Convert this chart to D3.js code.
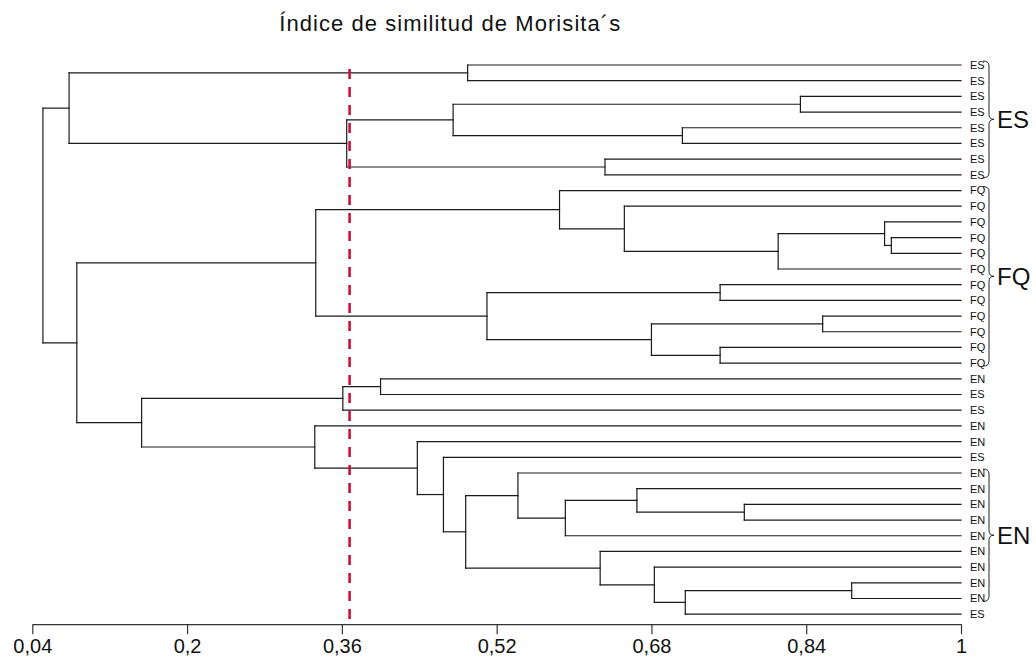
<!DOCTYPE html>
<html>
<head>
<meta charset="utf-8">
<script src="https://cdn.jsdelivr.net/npm/d3@7"></script>
<style>
  body { margin: 0; background: #fff; }
  svg { display: block; font-family: "Liberation Sans", Arial, Helvetica, sans-serif; }
</style>
</head>
<body>
<svg id="chart" width="1036" height="662"></svg>
<script>
// ---- data ---------------------------------------------------------------
const chartTitle = "Índice de similitud de Morisita´s";

// sample labels, top to bottom
const leafLabels = [
  "ES","ES","ES","ES","ES","ES","ES","ES",
  "FQ","FQ","FQ","FQ","FQ","FQ","FQ","FQ","FQ","FQ","FQ","FQ",
  "EN","ES","ES","EN","EN","ES",
  "EN","EN","EN","EN","EN","EN","EN","EN","EN",
  "ES"
];

// agglomeration steps: [upper member, lower member, similarity]
// numbers are samples, "m<k>" refers to the k-th merge
const merges = [
  [0, 1, 0.490],          // m0
  [2, 3, 0.834],          // m1
  [4, 5, 0.712],          // m2
  ["m1", "m2", 0.475],    // m3
  [6, 7, 0.632],          // m4
  ["m3", "m4", 0.365],    // m5
  ["m0", "m5", 0.078],    // m6
  [11, 12, 0.928],        // m7
  [10, "m7", 0.921],      // m8
  ["m8", 13, 0.811],      // m9
  [9, "m9", 0.652],       // m10
  [8, "m10", 0.585],      // m11
  [14, 15, 0.751],        // m12
  [16, 17, 0.857],        // m13
  [18, 19, 0.751],        // m14
  ["m13", "m14", 0.680],  // m15
  ["m12", "m15", 0.510],  // m16
  ["m11", "m16", 0.333],  // m17
  [20, 21, 0.400],        // m18
  ["m18", 22, 0.361],     // m19
  [28, 29, 0.776],        // m20
  [27, "m20", 0.665],     // m21
  ["m21", 30, 0.591],     // m22
  [26, "m22", 0.542],     // m23
  [33, 34, 0.887],        // m24
  ["m24", 35, 0.715],     // m25
  [32, "m25", 0.683],     // m26
  [31, "m26", 0.627],     // m27
  ["m23", "m27", 0.488],  // m28
  [25, "m28", 0.465],     // m29
  [24, "m29", 0.438],     // m30
  [23, "m30", 0.332],     // m31
  ["m19", "m31", 0.153],  // m32
  ["m17", "m32", 0.086],  // m33
  ["m6", "m33", 0.051]    // m34
];

const tickValues = [0.04, 0.2, 0.36, 0.52, 0.68, 0.84, 1];
const tickLabels = ["0,04", "0,2", "0,36", "0,52", "0,68", "0,84", "1"];

const cutoff = 0.368;

const groupNames = ["ES", "FQ", "EN"];
const groupFirst = [0, 8, 26];
const groupLast  = [7, 19, 34];

// ---- build hierarchy ------------------------------------------------------
const built = [];
function member(ref) {
  if (typeof ref === "number") return { leaf: ref, label: leafLabels[ref], height: 1 };
  return built[+ref.slice(1)];
}
merges.forEach(([a, b, h]) => built.push({ height: h, children: [member(a), member(b)] }));
const root = d3.hierarchy(built[built.length - 1]);

// ---- scales -----------------------------------------------------------------
const svg = d3.select("#chart");
const x = d3.scaleLinear().domain([0.04, 1]).range([32.3, 961]);
const y = d3.scalePoint().domain(d3.range(leafLabels.length)).range([65, 614.2]);
const axisY = y(leafLabels.length - 1) + 10;

root.eachAfter(n => {
  n.px = x(n.data.height);
  n.py = n.children ? d3.mean(n.children, c => c.py) : y(n.data.leaf);
});

// ---- title ------------------------------------------------------------------
svg.append("text")
  .attr("x", 449.7).attr("y", 30.7)
  .attr("text-anchor", "middle")
  .attr("font-size", 22)
  .attr("textLength", 341).attr("lengthAdjust", "spacing")
  .attr("fill", "#111")
  .text(chartTitle);

// ---- dendrogram ---------------------------------------------------------------
const tree = svg.append("g")
  .attr("fill", "none")
  .attr("stroke", "#1a1a1a")
  .attr("stroke-width", 1.2)
  .attr("stroke-linecap", "square");

const inner = root.descendants().filter(n => n.children);
// vertical joins
tree.selectAll("line.join").data(inner).join("line")
  .attr("class", "join")
  .attr("x1", n => n.px).attr("x2", n => n.px)
  .attr("y1", n => n.children[0].py).attr("y2", n => n.children[1].py);
// horizontal branches
tree.selectAll("line.branch").data(root.links()).join("line")
  .attr("class", "branch")
  .attr("x1", l => l.source.px).attr("x2", l => l.target.px)
  .attr("y1", l => l.target.py).attr("y2", l => l.target.py);

// sample labels
svg.append("g").selectAll("text").data(root.leaves()).join("text")
  .attr("x", x(1) + 9)
  .attr("y", n => n.py)
  .attr("dy", "0.36em")
  .attr("font-size", 11)
  .attr("fill", "#111")
  .text(n => n.data.label);

// ---- group braces -------------------------------------------------------------
const braceX0 = x(1) + 22, braceX1 = braceX0 + 6, braceX2 = braceX1 + 5, r = 5;
const braces = svg.append("g");
groupNames.forEach((name, i) => {
  const top = y(groupFirst[i]) - 4, bot = y(groupLast[i]) + 3, mid = (top + bot) / 2;
  braces.append("path")
    .attr("fill", "none").attr("stroke", "#222").attr("stroke-width", 1)
    .attr("d", `M${braceX0},${top} Q${braceX1},${top} ${braceX1},${top + r}
                L${braceX1},${mid - r} Q${braceX1},${mid} ${braceX2},${mid}
                Q${braceX1},${mid} ${braceX1},${mid + r}
                L${braceX1},${bot - r} Q${braceX1},${bot} ${braceX0},${bot}`);
  braces.append("text")
    .attr("x", braceX2 + 3).attr("y", mid)
    .attr("dy", "0.36em")
    .attr("font-size", 24)
    .attr("fill", "#111")
    .text(name);
});

// ---- cut-off line ---------------------------------------------------------------
svg.append("line")
  .attr("x1", x(cutoff)).attr("x2", x(cutoff))
  .attr("y1", y(0) + 4).attr("y2", axisY)
  .attr("stroke", "#c8143a")
  .attr("stroke-width", 2.6)
  .attr("stroke-dasharray", "10,8");

// ---- axis -------------------------------------------------------------------------
const axis = svg.append("g")
  .attr("transform", `translate(0,${axisY})`)
  .call(d3.axisBottom(x)
    .tickValues(tickValues)
    .tickFormat((d, i) => tickLabels[i])
    .tickSize(10)
    .tickSizeOuter(0)
    .tickPadding(5));
axis.select(".domain").attr("stroke", "#333").attr("stroke-width", 1.3);
axis.selectAll(".tick line").attr("stroke", "#333").attr("stroke-width", 1.2);
axis.selectAll(".tick text")
  .attr("font-size", 20)
  .attr("font-family", "\"Liberation Sans\", Arial, Helvetica, sans-serif")
  .attr("fill", "#111");
</script>
</body>
</html>
